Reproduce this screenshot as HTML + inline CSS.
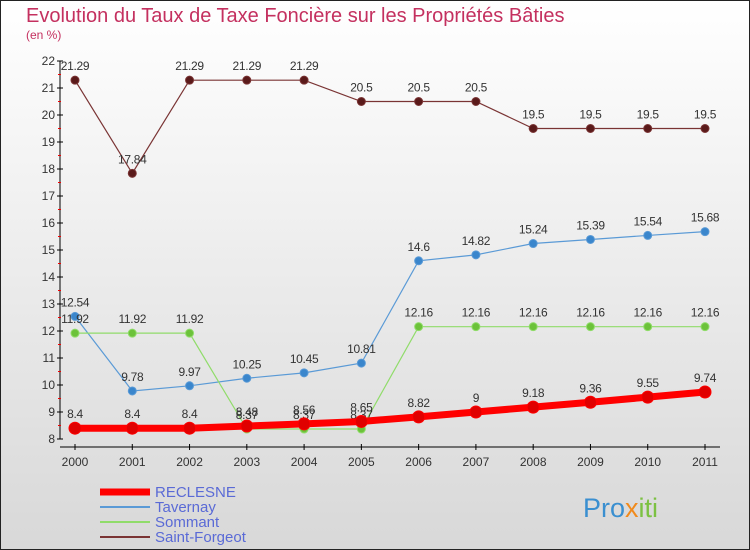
<!DOCTYPE html>
<html><head><meta charset="utf-8"><style>
body{margin:0}
#wrap{width:750px;height:550px;position:relative;overflow:hidden;font-family:"Liberation Sans",sans-serif}
</style></head><body>
<div id="wrap">
<svg id="svg" width="750" height="550" xmlns="http://www.w3.org/2000/svg" font-family="Liberation Sans, sans-serif">
<defs><linearGradient id="bg" x1="0" y1="0" x2="0" y2="1"><stop offset="0" stop-color="#ffffff"/><stop offset="1" stop-color="#d8d8d8"/></linearGradient></defs>
<rect x="0.5" y="0.5" width="749" height="549" fill="url(#bg)" stroke="#222"/>
<text x="26" y="22" font-size="20" fill="#c4305f">Evolution du Taux de Taxe Foncière sur les Propriétés Bâties</text>
<text x="26" y="39" font-size="12" fill="#c4305f">(en %)</text>
<g id="axes"></g><g id="series"></g><g id="legend"></g>
<text x="583" y="517" font-size="27" fill="#3a8fd0">Pro<tspan fill="#f08a1c">x</tspan><tspan fill="#7cc142">iti</tspan></text>
</svg>
</div>
<script>
const years=[2000,2001,2002,2003,2004,2005,2006,2007,2008,2009,2010,2011];
const yTicks=[8,9,10,11,12,13,14,15,16,17,18,19,20,21,22];
const reclesne=[8.4,8.4,8.4,8.48,8.56,8.65,8.82,9,9.18,9.36,9.55,9.74];
const tavernay=[12.54,9.78,9.97,10.25,10.45,10.81,14.6,14.82,15.24,15.39,15.54,15.68];
const sommant=[11.92,11.92,11.92,8.37,8.37,8.37,12.16,12.16,12.16,12.16,12.16,12.16];
const saintForgeot=[21.29,17.84,21.29,21.29,21.29,20.5,20.5,20.5,19.5,19.5,19.5,19.5];
const NS="http://www.w3.org/2000/svg";
const X=i=>75+i*(630/11);
const Y=v=>439-(v-8)*27;
function mk(tag,attrs,parent,txt){const e=document.createElementNS(NS,tag);for(const k in attrs)e.setAttribute(k,attrs[k]);if(txt!==undefined)e.textContent=txt;parent.appendChild(e);return e;}
const ax=document.getElementById('axes');
let yl=mk('line',{x1:60,y1:Y(22),x2:60,y2:Y(8),stroke:'#000'},ax);

let xl=mk('line',{x1:60,y1:Y(8)+8,x2:720,y2:Y(8)+8,stroke:'#000'},ax);

yTicks.forEach(t=>{
  mk('line',{x1:57,y1:Y(t),x2:63,y2:Y(t),stroke:'#000'},ax);
  if(t<22)mk('line',{x1:58,y1:Y(t+0.5),x2:61,y2:Y(t+0.5),stroke:'#e00'},ax);
  const l=mk('text',{x:55,y:Y(t)+4,'font-size':12,'text-anchor':'end',fill:'#333'},ax,String(t));
  
});
years.forEach((yr,i)=>{
  mk('line',{x1:X(i),y1:Y(8)+5,x2:X(i),y2:Y(8)+11,stroke:'#000'},ax);
  const l=mk('text',{x:X(i),y:Y(8)+27,'font-size':12,'text-anchor':'middle',fill:'#333'},ax,String(yr));
  
});
const sg=document.getElementById('series');
function series(vals,color,dot,w,r,name){
  const g=mk('g',{},sg);
  
  mk('polyline',{points:vals.map((v,i)=>X(i)+','+Y(v)).join(' '),fill:'none',stroke:color,'stroke-width':w},g);
  vals.forEach((v,i)=>{
    const c=mk('circle',{cx:X(i),cy:Y(v),r:r,fill:dot,stroke:color,'stroke-width':1},g);
    
    const t=mk('text',{x:X(i),y:Y(v)-10,'font-size':12,'text-anchor':'middle',fill:'#333','letter-spacing':'-0.3'},g,String(v));
    
  });
}
series(saintForgeot,'#7a3434','#5a1a1a',1.2,4,'saint-forgeot-series');
series(tavernay,'#5a9ad6','#3a86cc',1.2,4,'tavernay-series');
series(sommant,'#90dc6a','#6cc23a',1.2,4,'sommant-series');
series(reclesne,'#ff0000','#e00000',7,6,'reclesne-series');
const lg=document.getElementById('legend');
const ent=[['RECLESNE','#ff0000',7],['Tavernay','#5a9ad6',2],['Sommant','#90dc6a',2],['Saint-Forgeot','#7a3434',2]];
ent.forEach((e,i)=>{
  const g=mk('g',{},lg);
  
  const y=492+i*15;
  mk('line',{x1:100,y1:y,x2:150,y2:y,stroke:e[1],'stroke-width':e[2]},g);
  mk('text',{x:155,y:y+5,'font-size':15,fill:'#5a6ad6'},g,e[0]);
});
</script>
</body></html>
